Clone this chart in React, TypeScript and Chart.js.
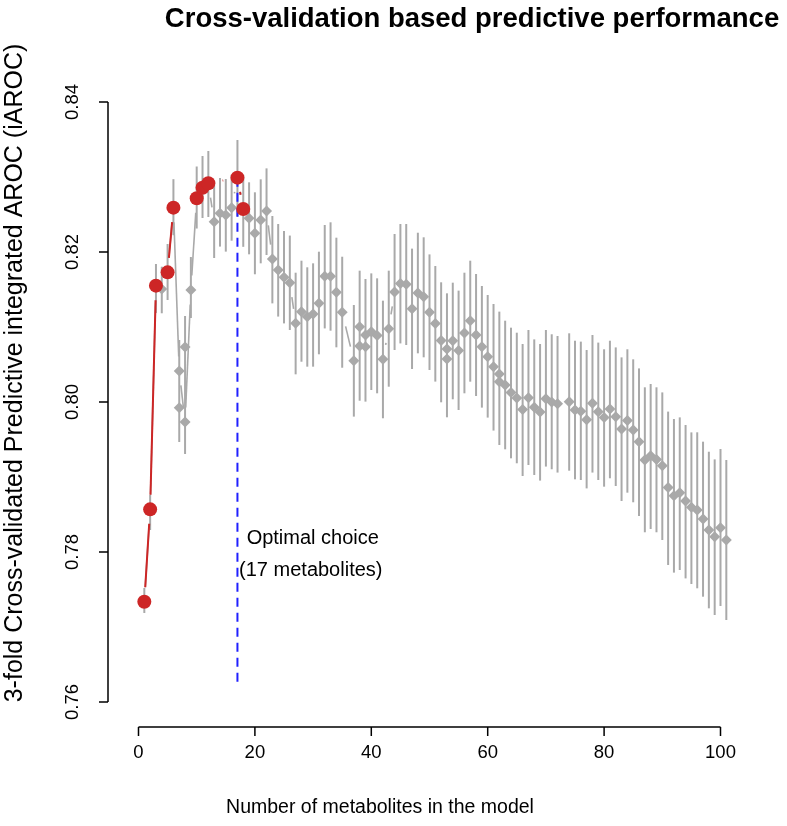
import React, { useEffect, useRef } from "react";
import { Chart, registerables } from "chart.js";

Chart.register(...registerables);

// ---------------- data ----------------
const modelSizes = [
  1, 2, 3, 4, 5, 6, 7, 8, 9, 10, 11, 12, 13, 14, 15, 16, 17, 18, 19, 20,
  21, 22, 23, 24, 25, 26, 27, 28, 29, 30, 31, 32, 33, 34, 35, 37, 38, 39, 40,
  41, 42, 43, 44, 45, 46, 47, 48, 49, 50, 51, 52, 53, 54, 55, 56, 57, 58, 59, 60,
  61, 62, 63, 64, 65, 66, 67, 68, 69, 70, 71, 72, 74, 75, 76, 77, 78, 79, 80,
  81, 82, 83, 84, 85, 86, 87, 88, 89, 90, 91, 92, 93, 94, 95, 96, 97, 98, 99, 100, 101,
];

const meanAuc = [
  0.77337, 0.78569, 0.81551, 0.81507, 0.81729, 0.82591, 0.80413, 0.79733, 0.81493, 0.82716,
  0.82857, 0.82916, 0.82404, 0.82516, 0.82493, 0.82591, 0.82991, 0.82573, 0.82449, 0.82249,
  0.82427, 0.82547, 0.81907, 0.8176, 0.81663, 0.81591, 0.81049, 0.81204, 0.81137, 0.81173,
  0.81316, 0.81676, 0.81676, 0.81463, 0.81196, 0.80551, 0.80747, 0.80893, 0.80937,
  0.80887, 0.80571, 0.80977, 0.81467, 0.8158, 0.81571, 0.81243, 0.81453, 0.81404, 0.81197,
  0.81047, 0.8082, 0.80707, 0.80817, 0.80687, 0.8092, 0.81083, 0.80893, 0.80737, 0.80604,
  0.80471, 0.80373, 0.80227, 0.80127, 0.80053, 0.799, 0.80057, 0.79929, 0.79867, 0.80044,
  0.8, 0.79977, 0.80004, 0.79893, 0.79876, 0.79764, 0.79983, 0.79871, 0.79793,
  0.79907, 0.79804, 0.7964, 0.79753, 0.79627, 0.79469, 0.79227, 0.79283, 0.79233, 0.79149,
  0.7886, 0.78751, 0.78791, 0.7868, 0.78596, 0.7856, 0.7844, 0.78293, 0.78204, 0.78324, 0.7816,
];

const ciLower = [
  0.77187, 0.78293, 0.81187, 0.81183, 0.8136, 0.82224, 0.79467, 0.79307, 0.8112, 0.82313,
  0.82453, 0.82467, 0.8192, 0.82072, 0.82005, 0.82151, 0.82472, 0.82069, 0.81969, 0.81703,
  0.81849, 0.8196, 0.81315, 0.81139, 0.81048, 0.8096, 0.80369, 0.80537, 0.80471, 0.80471,
  0.80636, 0.80981, 0.80951, 0.80729, 0.80457, 0.79805, 0.80017, 0.80005, 0.8016,
  0.80116, 0.79783, 0.80204, 0.80693, 0.80781, 0.8076, 0.8044, 0.80649, 0.80596, 0.80427,
  0.80272, 0.79996, 0.79796, 0.80036, 0.79893, 0.80116, 0.80271, 0.8008, 0.79925, 0.79792,
  0.79619, 0.79427, 0.79369, 0.79249, 0.79183, 0.79013, 0.7916, 0.79027, 0.78952, 0.79139,
  0.79103, 0.79059, 0.79084, 0.78969, 0.7896, 0.78848, 0.79059, 0.7896, 0.78871,
  0.78983, 0.7888, 0.7868, 0.78791, 0.78663, 0.7848, 0.78263, 0.78307, 0.78263, 0.7816,
  0.77827, 0.77725, 0.7776, 0.77648, 0.77573, 0.77516, 0.77404, 0.77249, 0.7716, 0.7728, 0.77093,
];

const ciUpper = [
  0.7752, 0.7876, 0.8184, 0.81804, 0.82107, 0.82971, 0.80827, 0.81147, 0.81933, 0.8314,
  0.8328, 0.83347, 0.82933, 0.82987, 0.82973, 0.83031, 0.83493, 0.83029, 0.82929, 0.82796,
  0.82969, 0.83115, 0.8248, 0.82373, 0.8228, 0.82219, 0.81724, 0.81884, 0.81796, 0.81849,
  0.82004, 0.8236, 0.82396, 0.82191, 0.81937, 0.81293, 0.81751, 0.8164, 0.81715,
  0.81649, 0.81351, 0.81751, 0.8224, 0.82373, 0.82373, 0.82045, 0.82257, 0.82196, 0.81968,
  0.81813, 0.81596, 0.81449, 0.81591, 0.81485, 0.81724, 0.81884, 0.81707, 0.81547, 0.81427,
  0.81307, 0.81205, 0.81084, 0.80991, 0.80924, 0.80773, 0.8096, 0.80835, 0.80773, 0.8096,
  0.80903, 0.8088, 0.80916, 0.80817, 0.80805, 0.80693, 0.80893, 0.80792, 0.80703,
  0.80817, 0.80728, 0.80595, 0.80703, 0.80569, 0.80448, 0.80196, 0.8024, 0.80196, 0.80128,
  0.79872, 0.79773, 0.79795, 0.79693, 0.79595, 0.79596, 0.79471, 0.79337, 0.79235, 0.79373, 0.79227,
];

// second estimates drawn at a few model sizes
const extraSizes = [7, 8, 38, 39, 53, 62];
const extraAuc = [0.79924, 0.80733, 0.81004, 0.80737, 0.80573, 0.80271];

// metabolites kept along the selection path
const selectedSizes = [1, 2, 3, 5, 6, 10, 11, 12, 17, 18];

const optimalSize = 17;
const optimalLineBottom = 0.7625;

const xTicks = [0, 20, 40, 60, 80, 100];
const yTicks = [0.76, 0.78, 0.8, 0.82, 0.84];
const yTickLabels = ["0.76", "0.78", "0.80", "0.82", "0.84"];

const titleText = "Cross-validation based predictive performance";
const xTitle = "Number of metabolites in the model";
const yTitle = "3-fold Cross-validated Predictive integrated AROC (iAROC)";
const noteLines = ["Optimal choice", "(17 metabolites)"];

// ---------------- styles ----------------
const GRAY = "#A9A9A9";
const RED = "#CD2626";
const BLUE = "#2020FF";
const FONT = "'Liberation Sans', Arial, Helvetica, sans-serif";
const GAP = 14.5;

function gapLine(ctx: CanvasRenderingContext2D, pts: number[][], gap: number) {
  for (let i = 0; i < pts.length - 1; i++) {
    const [x1, y1] = pts[i];
    const [x2, y2] = pts[i + 1];
    const dx = x2 - x1;
    const dy = y2 - y1;
    const d = Math.hypot(dx, dy);
    if (d <= 2 * gap) continue;
    const ux = dx / d;
    const uy = dy / d;
    ctx.beginPath();
    ctx.moveTo(x1 + ux * gap, y1 + uy * gap);
    ctx.lineTo(x2 - ux * gap, y2 - uy * gap);
    ctx.stroke();
  }
}

const rPlot = {
  id: "rPlot",
  beforeDatasetsDraw(chart: any) {
    const { ctx } = chart;
    const xs = chart.scales.x;
    const ys = chart.scales.y;
    ctx.save();
    ctx.lineCap = "butt";
    // error bars
    ctx.strokeStyle = GRAY;
    ctx.lineWidth = 2;
    modelSizes.forEach((s, i) => {
      const px = xs.getPixelForValue(s);
      ctx.beginPath();
      ctx.moveTo(px, ys.getPixelForValue(ciLower[i]));
      ctx.lineTo(px, ys.getPixelForValue(ciUpper[i]));
      ctx.stroke();
    });
    // gray connecting line (type "b")
    ctx.lineWidth = 1.6;
    gapLine(
      ctx,
      modelSizes.map((s, i) => [xs.getPixelForValue(s), ys.getPixelForValue(meanAuc[i])]),
      GAP
    );
    // optimal choice dashed line
    const oi = modelSizes.indexOf(optimalSize);
    ctx.strokeStyle = BLUE;
    ctx.lineWidth = 2;
    ctx.setLineDash([9, 6]);
    ctx.beginPath();
    const ox = xs.getPixelForValue(optimalSize);
    ctx.moveTo(ox, ys.getPixelForValue(meanAuc[oi]));
    ctx.lineTo(ox, ys.getPixelForValue(optimalLineBottom));
    ctx.stroke();
    ctx.setLineDash([]);
    // red selection path
    ctx.strokeStyle = RED;
    ctx.lineWidth = 2;
    gapLine(
      ctx,
      selectedSizes.map((s) => [
        xs.getPixelForValue(s),
        ys.getPixelForValue(meanAuc[modelSizes.indexOf(s)]),
      ]),
      GAP
    );
    ctx.restore();
  },
  afterDraw(chart: any) {
    const { ctx, chartArea } = chart;
    const xs = chart.scales.x;
    const ys = chart.scales.y;
    ctx.save();
    ctx.strokeStyle = "#000";
    ctx.fillStyle = "#000";
    ctx.lineWidth = 1.5;
    // x axis
    const y0 = chartArea.bottom + 1;
    ctx.beginPath();
    ctx.moveTo(xs.getPixelForValue(xTicks[0]), y0);
    ctx.lineTo(xs.getPixelForValue(xTicks[xTicks.length - 1]), y0);
    xTicks.forEach((t) => {
      const px = xs.getPixelForValue(t);
      ctx.moveTo(px, y0);
      ctx.lineTo(px, y0 + 9);
    });
    ctx.stroke();
    ctx.font = `18.5px ${FONT}`;
    ctx.textAlign = "center";
    ctx.textBaseline = "middle";
    xTicks.forEach((t) => {
      ctx.fillText(String(t), xs.getPixelForValue(t), y0 + 26);
    });
    // y axis
    const x0 = chartArea.left;
    ctx.beginPath();
    ctx.moveTo(x0, ys.getPixelForValue(yTicks[0]));
    ctx.lineTo(x0, ys.getPixelForValue(yTicks[yTicks.length - 1]));
    yTicks.forEach((t) => {
      const py = ys.getPixelForValue(t);
      ctx.moveTo(x0, py);
      ctx.lineTo(x0 - 9, py);
    });
    ctx.stroke();
    yTicks.forEach((t, i) => {
      const py = ys.getPixelForValue(t);
      ctx.save();
      ctx.translate(x0 - 35, py);
      ctx.rotate(-Math.PI / 2);
      ctx.fillText(yTickLabels[i], 0, 0);
      ctx.restore();
    });
    // axis titles
    ctx.font = `19.5px ${FONT}`;
    ctx.fillText(xTitle, 380, 808);
    ctx.save();
    ctx.translate(15, 373);
    ctx.rotate(-Math.PI / 2);
    ctx.font = `25px ${FONT}`;
    ctx.fillText(yTitle, 0, 0);
    ctx.restore();
    // main title
    ctx.font = `bold 27.5px ${FONT}`;
    ctx.fillText(titleText, 472, 19);
    // annotation
    ctx.font = `20px ${FONT}`;
    const ax = xs.getPixelForValue(29.6);
    ctx.fillText(noteLines[0], ax + 2, ys.getPixelForValue(0.7818));
    ctx.fillText(noteLines[1], ax, ys.getPixelForValue(0.7775));
    ctx.restore();
  },
};

export default function App() {
  const ref = useRef<HTMLCanvasElement | null>(null);

  useEffect(() => {
    if (!ref.current) return;
    const grayPts = modelSizes.map((s, i) => ({ x: s, y: meanAuc[i] }));
    const extraPts = extraSizes.map((s, i) => ({ x: s, y: extraAuc[i] }));
    const redPts = selectedSizes.map((s) => ({ x: s, y: meanAuc[modelSizes.indexOf(s)] }));

    const chart = new Chart(ref.current, {
      type: "scatter",
      data: {
        datasets: [
          {
            label: "selected",
            data: redPts,
            pointStyle: "circle",
            pointRadius: 7,
            pointBackgroundColor: RED,
            pointBorderWidth: 0,
            borderWidth: 0,
            showLine: false,
            order: 0,
          },
          {
            label: "extra",
            data: extraPts,
            pointStyle: "rectRot",
            pointRadius: 5.5,
            pointBackgroundColor: GRAY,
            pointBorderWidth: 0,
            borderWidth: 0,
            showLine: false,
            order: 1,
          },
          {
            label: "cv",
            data: grayPts,
            pointStyle: "rectRot",
            pointRadius: 5.5,
            pointBackgroundColor: GRAY,
            pointBorderWidth: 0,
            borderWidth: 0,
            showLine: false,
            order: 2,
          },
        ],
      },
      options: {
        responsive: false,
        animation: false,
        devicePixelRatio: 1,
        events: [],
        layout: { padding: { left: 108, right: 37.4, top: 78, bottom: 100 } },
        scales: {
          x: { type: "linear", min: -5.2405, max: 105, display: false },
          y: { type: "linear", min: 0.7568, max: 0.8432, display: false },
        },
        plugins: {
          legend: { display: false },
          tooltip: { enabled: false },
          title: { display: false },
        },
      },
      plugins: [rPlot],
    });
    return () => chart.destroy();
  }, []);

  return (
    <div style={{ position: "absolute", left: 0, top: 0, width: 787, height: 826, background: "#fff" }}>
      <canvas ref={ref} width={787} height={826} style={{ width: 787, height: 826, display: "block" }} />
    </div>
  );
}
